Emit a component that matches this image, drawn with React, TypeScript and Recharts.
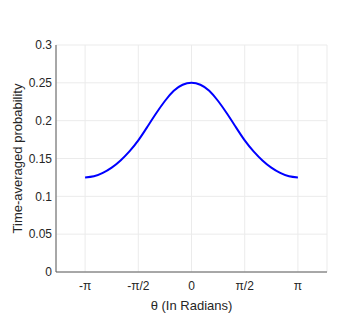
import React from "react";
import {
  LineChart,
  Line,
  XAxis,
  YAxis,
  CartesianGrid,
} from "recharts";

// theta in steps of pi/12, from -pi to pi
const thetaSteps = [
  -12, -11, -10, -9, -8, -7, -6, -5, -4, -3, -2, -1, 0,
  1, 2, 3, 4, 5, 6, 7, 8, 9, 10, 11, 12,
];
const probability = [
  0.125, 0.1265, 0.131, 0.138, 0.1475, 0.1595, 0.174, 0.1915, 0.2095, 0.226,
  0.2395, 0.2475, 0.25, 0.2475, 0.2395, 0.226, 0.2095, 0.1915, 0.174, 0.1595,
  0.1475, 0.138, 0.131, 0.1265, 0.125,
];

const xTicks = [-Math.PI, -Math.PI / 2, 0, Math.PI / 2, Math.PI];
const xTickLabels = ["-π", "-π/2", "0", "π/2", "π"];
const yTicks = [0, 0.05, 0.1, 0.15, 0.2, 0.25, 0.3];
const yTickLabels = ["0", "0.05", "0.1", "0.15", "0.2", "0.25", "0.3"];

const data = thetaSteps.map((k, i) => ({
  theta: (k * Math.PI) / 12,
  p: probability[i],
}));

const axisColor = "#5a5a5a";
const textColor = "#262626";
const font = "'Liberation Sans', Arial, sans-serif";

const App = () => {
  return (
    <div style={{ position: "absolute", left: 0, top: 0, background: "#fff" }}>
      <LineChart
        width={354}
        height={327}
        data={data}
        margin={{ top: 45, right: 27, bottom: 0, left: 0 }}
        style={{ fontFamily: font }}
      >
        <CartesianGrid stroke="#ebebeb" strokeWidth={1} />
        <XAxis
          dataKey="theta"
          type="number"
          domain={[-4, 4]}
          ticks={xTicks}
          tickFormatter={(v: number) => xTickLabels[xTicks.indexOf(v)]}
          height={55}
          tickLine={false}
          tickSize={0}
          tickMargin={9}
          axisLine={{ stroke: axisColor }}
          tick={{ fill: textColor, fontSize: 12 }}
          label={{
            value: "θ (In Radians)",
            position: "insideBottom",
            offset: 17,
            fill: textColor,
            fontSize: 13,
          }}
        />
        <XAxis
          xAxisId="top"
          orientation="top"
          type="number"
          domain={[-4, 4]}
          height={0}
          tick={false}
          tickLine={false}
          axisLine={{ stroke: axisColor }}
        />
        <YAxis
          type="number"
          domain={[0, 0.3]}
          ticks={yTicks}
          tickFormatter={(v: number) => yTickLabels[yTicks.indexOf(v)]}
          width={56}
          tickLine={false}
          tickSize={0}
          tickMargin={4}
          axisLine={{ stroke: axisColor }}
          tick={{ fill: textColor, fontSize: 12 }}
          label={{
            value: "Time-averaged probability",
            angle: -90,
            position: "insideLeft",
            offset: 17,
            fill: textColor,
            fontSize: 13,
            style: { textAnchor: "middle" },
          }}
        />
        <YAxis
          yAxisId="right"
          orientation="right"
          type="number"
          domain={[0, 0.3]}
          width={0}
          tick={false}
          tickLine={false}
          axisLine={{ stroke: axisColor }}
        />
        <Line
          dataKey="p"
          type="natural"
          stroke="#0000ff"
          strokeWidth={2}
          dot={false}
          isAnimationActive={false}
        />
      </LineChart>
    </div>
  );
};

export default App;
